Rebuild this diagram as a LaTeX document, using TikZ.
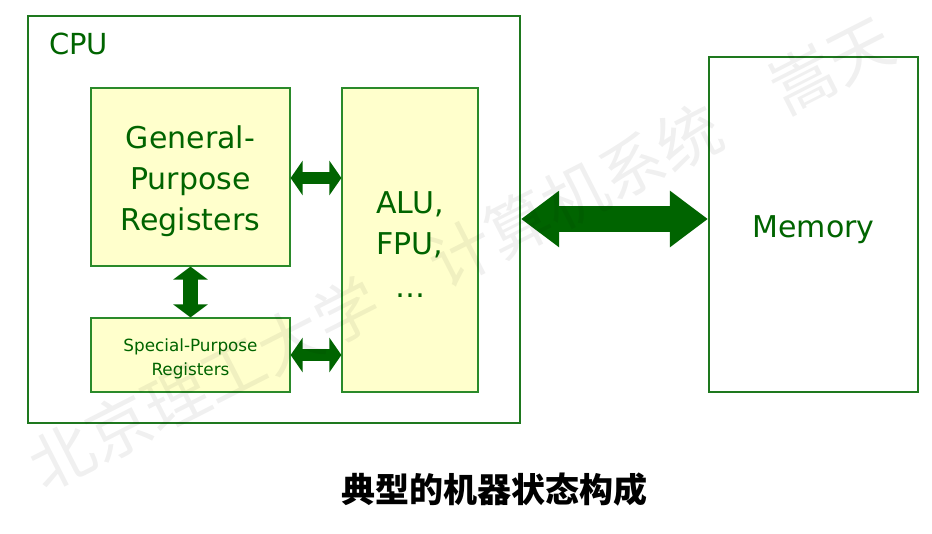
\documentclass[tikz,border=0pt]{standalone}
\usepackage{fontspec}
\setmainfont{DejaVu Sans}
\newfontfamily\cjk{Noto Sans CJK SC}
\usetikzlibrary{arrows.meta}
\definecolor{dkgreen}{HTML}{006400}
\definecolor{boxgreen}{HTML}{2A8A2A}
\definecolor{outgreen}{HTML}{1E781E}
\definecolor{ylw}{HTML}{FFFFCC}
\tikzset{
  x=1pt, y=-1pt,
  regbox/.style={draw=boxgreen, line width=1.2pt, fill=ylw, rectangle, inner sep=0pt},
  bigbox/.style={draw=outgreen, line width=2.2pt, rectangle, inner sep=0pt},
  boxtext/.style={text=dkgreen, align=center, inner sep=0pt},
  bigtext/.style={boxtext, font=\fontsize{30}{41}\selectfont},
  smalltext/.style={boxtext, font=\fontsize{16.8}{24}\selectfont},
  smallarrow/.style={draw=dkgreen, line width=12pt,
    {Triangle[length=12pt,width=34pt]}-{Triangle[length=12pt,width=34pt]}},
  vertarrow/.style={draw=dkgreen, line width=15pt,
    {Triangle[length=13pt,width=34pt]}-{Triangle[length=13pt,width=34pt]}},
  busarrow/.style={draw=dkgreen, line width=26pt,
    {Triangle[length=38pt,width=54pt]}-{Triangle[length=38pt,width=54pt]}},
}
\begin{document}
\begin{tikzpicture}
\useasboundingbox (0,0) rectangle (932,534);
\node[bigbox, minimum width=492pt, minimum height=407pt] (cpu) at (274,219.5) {};
\node[text=dkgreen, font=\fontsize{29}{34}\selectfont, anchor=base west, inner sep=0pt] (cpulabel) at (49,55) {CPU};
\node[regbox, minimum width=199pt, minimum height=178pt] (gpr) at (190.5,177) {};
\node[regbox, minimum width=199pt, minimum height=74pt] (spr) at (190.5,355) {};
\node[regbox, minimum width=136pt, minimum height=304pt] (alu) at (410,240) {};
\node[bigbox, minimum width=209pt, minimum height=335pt, fill=white] (mem) at (813.5,224.5) {};
\node[bigtext] (gprtext) at ([yshift=-4.5pt]gpr.center) {General-\\Purpose\\Registers};
\node[smalltext] (sprtext) at ([yshift=-4pt]spr.center) {Special-Purpose\\Registers};
\node[bigtext] (alutext) at ([yshift=-5pt]alu.center) {ALU,\\FPU,\\[2pt]…};
\node[bigtext] (memtext) at ([yshift=-5pt]mem.center) {Memory};
\coordinate (r1) at (0,178);
\coordinate (r2) at (0,219);
\draw[smallarrow] (gpr.east |- r1) -- (alu.west |- r1);
\draw[smallarrow] (spr.east) -- (alu.west |- spr.east);
\draw[vertarrow] (gpr.south) -- (spr.north);
\draw[busarrow] (cpu.east |- r2) -- (mem.west |- r2);
\node[font=\cjk\bfseries\fontsize{34}{40}\selectfont, text=black] (caption) at (494,490) {典型的机器状态构成};
\node[font=\cjk\fontsize{64}{70}\selectfont, text=black, text opacity=0.06, rotate=27] (wm) at (461,253) {北京理工大学　计算机系统　嵩天};
\end{tikzpicture}
\end{document}
